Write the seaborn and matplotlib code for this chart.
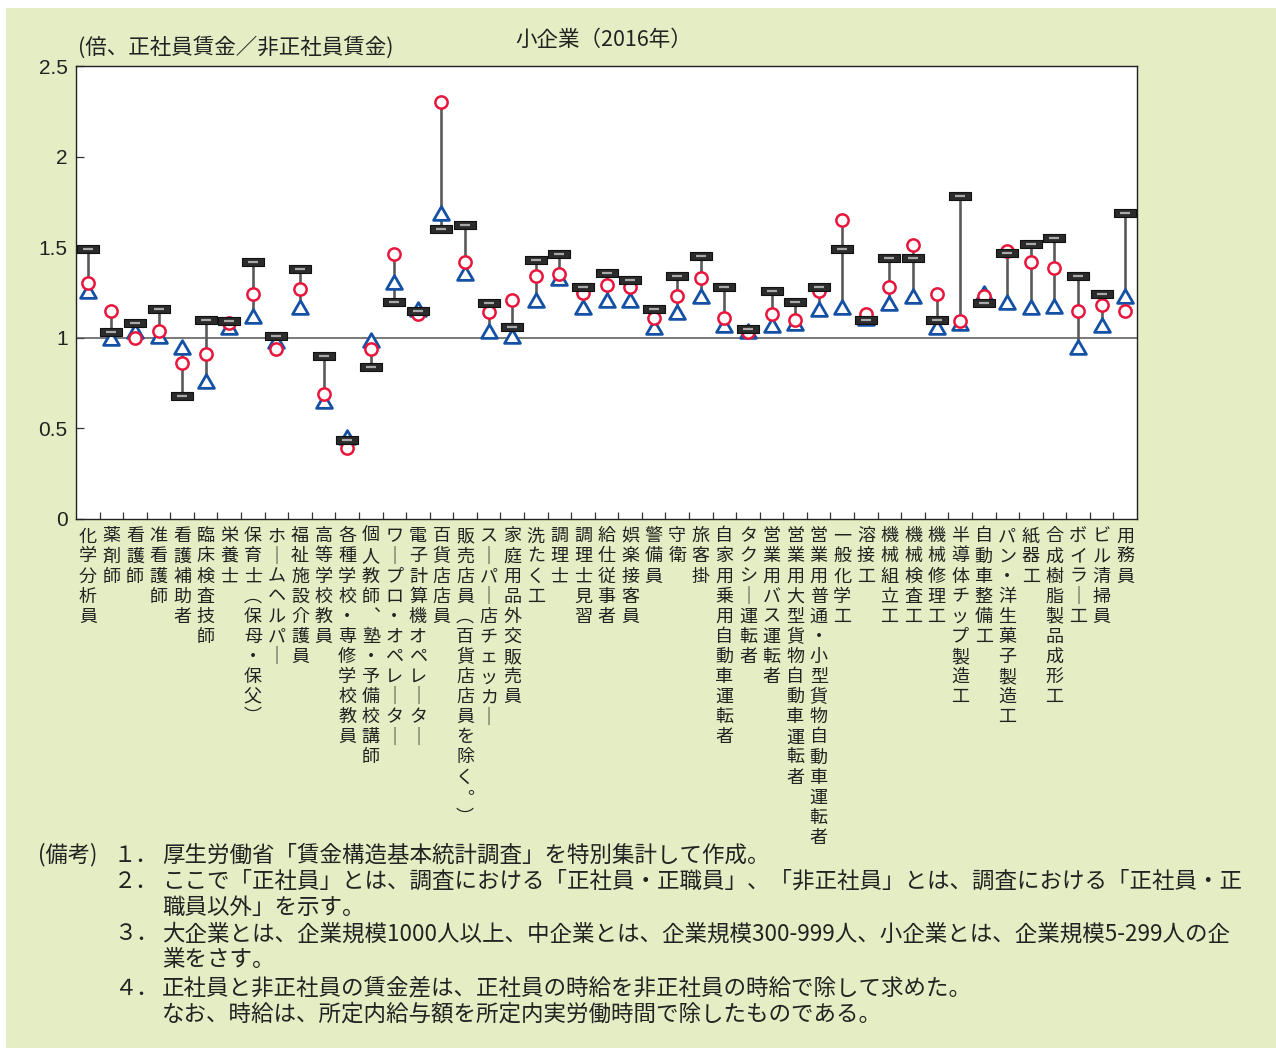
# Imports
import numpy as np
import pandas as pd
import matplotlib.pyplot as plt
from matplotlib.path import Path
from matplotlib.patches import Rectangle
import seaborn as sns

# data
occupations = ['化学分析員', '薬剤師', '看護師', '准看護師', '看護補助者', '臨床検査技師', '栄養士',
               '保育士（保母・保父）', 'ホームヘルパー', '福祉施設介護員', '高等学校教員',
               '各種学校・専修学校教員', '個人教師、塾・予備校講師', 'ワープロ・オペレーター',
               '電子計算機オペレーター', '百貨店店員', '販売店員（百貨店店員を除く。）',
               'スーパー店チェッカー', '家庭用品外交販売員', '洗たく工', '調理士', '調理士見習',
               '給仕従事者', '娯楽接客員', '警備員', '守衛', '旅客掛', '自家用乗用自動車運転者',
               'タクシー運転者', '営業用バス運転者', '営業用大型貨物自動車運転者',
               '営業用普通・小型貨物自動車運転者', '一般化学工', '溶接工', '機械組立工', '機械検査工',
               '機械修理工', '半導体チップ製造工', '自動車整備工', 'パン・洋生菓子製造工', '紙器工',
               '合成樹脂製品成形工', 'ボイラー工', 'ビル清掃員', '用務員']

dash_vals = [1.49, 1.03, 1.08, 1.16, 0.68, 1.10, 1.09, 1.42, 1.01, 1.38, 0.90, 0.435,
             0.84, 1.20, 1.15, 1.60, 1.62, 1.19, 1.06, 1.43, 1.46, 1.28, 1.36, 1.32,
             1.16, 1.34, 1.45, 1.28, 1.05, 1.26, 1.20, 1.28, 1.49, 1.10, 1.44, 1.44,
             1.10, 1.78, 1.19, 1.47, 1.52, 1.55, 1.34, 1.24, 1.69]

circle_vals = [1.30, 1.15, 1.00, 1.04, 0.86, 0.91, 1.08, 1.24, 0.94, 1.27, 0.69, 0.39,
               0.94, 1.46, 1.13, 2.30, 1.42, 1.14, 1.21, 1.34, 1.35, 1.245, 1.29, 1.28,
               1.11, 1.23, 1.33, 1.11, 1.03, 1.13, 1.10, 1.26, 1.65, 1.13, 1.28, 1.51,
               1.24, 1.09, 1.23, 1.48, 1.42, 1.385, 1.15, 1.18, 1.15]

triangle_vals = [1.26, 1.00, 1.04, 1.01, 0.95, 0.76, 1.06, 1.12, 0.98, 1.17, 0.65, 0.45,
                 0.99, 1.31, 1.16, 1.69, 1.36, 1.04, 1.01, 1.21, 1.33, 1.17, 1.21, 1.21,
                 1.06, 1.14, 1.23, 1.07, 1.04, 1.07, 1.08, 1.16, 1.17, 1.11, 1.19, 1.23,
                 1.06, 1.08, 1.245, 1.20, 1.17, 1.175, 0.95, 1.07, 1.23]

y_ticks = [0, 0.5, 1, 1.5, 2, 2.5]
y_ticklabels = ['0', '0.5', '1', '1.5', '2', '2.5']

title_text = '小企業（2016年）'
ylabel_text = '(倍、正社員賃金／非正社員賃金)'

notes = [
    ('(備考)', '１．', '厚生労働省「賃金構造基本統計調査」を特別集計して作成。'),
    ('', '２．', 'ここで「正社員」とは、調査における「正社員・正職員」、「非正社員」とは、調査における「正社員・正'),
    ('', '', '職員以外」を示す。'),
    ('', '３．', '大企業とは、企業規模1000人以上、中企業とは、企業規模300-999人、小企業とは、企業規模5-299人の企'),
    ('', '', '業をさす。'),
    ('', '４．', '正社員と非正社員の賃金差は、正社員の時給を非正社員の時給で除して求めた。'),
    ('', '', 'なお、時給は、所定内給与額を所定内実労働時間で除したものである。'),
]

#
sns.set_style('ticks')
plt.rcParams['font.family'] = ['Noto Sans CJK JP', 'DejaVu Sans']

BG = '#e4edc3'
RED = '#e8163c'
BLUE = '#1450a3'
TXT = '#222222'

W, H = 1276, 1048
fig = plt.figure(figsize=(W / 100, H / 100), dpi=100, facecolor='white')
fig.patches.append(Rectangle((6 / W, 0), 1, 1 - 8 / H, transform=fig.transFigure,
                             facecolor=BG, edgecolor='none', zorder=-10))

ax = fig.add_axes([76 / W, 1 - 519 / H, (1137 - 76) / W, (519 - 66) / H])
ax.set_facecolor('white')

df = pd.DataFrame({'occupation': occupations,
                   'dash': dash_vals,
                   'circle': circle_vals,
                   'triangle': triangle_vals})
n = len(df)
lo = df[['dash', 'circle', 'triangle']].min(axis=1)
hi = df[['dash', 'circle', 'triangle']].max(axis=1)

# high-low lines
ax.vlines(np.arange(n), lo, hi, color='#5a5a5a', linewidth=1.9, zorder=2)
ax.axhline(1, color='#555555', linewidth=1.1, zorder=1)

tri_marker = Path([(-1, -0.866), (1, -0.866), (0, 0.866), (-1, -0.866)],
                  [Path.MOVETO, Path.LINETO, Path.LINETO, Path.CLOSEPOLY])
dash_marker = Path([(-1, -0.36), (1, -0.36), (1, 0.36), (-1, 0.36), (-1, -0.36)],
                   [Path.MOVETO, Path.LINETO, Path.LINETO, Path.LINETO, Path.CLOSEPOLY])

sns.scatterplot(data=df, x='occupation', y='triangle', marker=tri_marker, s=130,
                color='white', edgecolor=BLUE, linewidth=2.0, zorder=3, ax=ax)
sns.scatterplot(data=df, x='occupation', y='circle', marker='o', s=78,
                color='white', edgecolor=RED, linewidth=1.8, zorder=4, ax=ax)
sns.scatterplot(data=df, x='occupation', y='dash', marker=dash_marker, s=250,
                color='#2b2b2b', edgecolor='#111111', linewidth=0.8, zorder=5, ax=ax)
sns.scatterplot(data=df, x='occupation', y='dash', marker='_', s=60,
                color='#a9a9a9', linewidth=1.6, zorder=6, ax=ax)

ax.set_xlim(-0.5, n - 0.5)
ax.set_ylim(0, 2.5)
ax.set_xlabel('')
ax.set_ylabel('')

# vertical (tategaki) tick labels
vert_map = {'ー': '｜', '（': '︵', '）': '︶', '、': '︑', '。': '︒'}
vert_labels = ['\n'.join(vert_map.get(ch, ch) for ch in name) for name in occupations]
ax.set_xticks(np.arange(n))
ax.set_xticklabels(vert_labels, fontsize=13, linespacing=1.15, va='top', color=TXT)
ax.set_xticks(np.arange(0.5, n - 1, 1), minor=True)
ax.tick_params(axis='x', which='major', length=0, pad=6)
ax.tick_params(axis='x', which='minor', direction='in', length=5, width=0.9, color='#333333')

ax.set_yticks(y_ticks)
ax.set_yticklabels(y_ticklabels, fontsize=15, family='Liberation Sans', color=TXT)
ax.tick_params(axis='y', direction='in', length=6, width=0.9, pad=6, color='#333333')

for sp in ax.spines.values():
    sp.set_color(TXT)
    sp.set_linewidth(1.0)

fig.text(604 / W, 1 - 40 / H, title_text, ha='center', va='center', fontsize=15.5, color=TXT)
fig.text(78 / W, 1 - 47 / H, ylabel_text, ha='left', va='center', fontsize=15.5, color=TXT)

# notes
note_y = [855, 881, 908, 934, 960, 988, 1014]
for (head, num, body), yy in zip(notes, note_y):
    if head:
        fig.text(38 / W, 1 - yy / H, head, ha='left', va='center', fontsize=16, color=TXT)
    if num:
        fig.text(114 / W, 1 - yy / H, num, ha='left', va='center', fontsize=16, color=TXT)
    fig.text(162 / W, 1 - yy / H, body, ha='left', va='center', fontsize=16.2, color=TXT)

fig.savefig('out.png', dpi=100, facecolor=fig.get_facecolor())
